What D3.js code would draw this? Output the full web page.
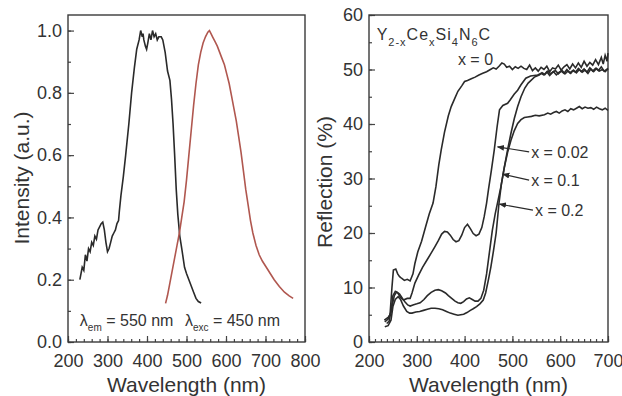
<!DOCTYPE html>
<html>
<head>
<meta charset="utf-8">
<script src="https://cdn.jsdelivr.net/npm/d3@7"></script>
<style>
  body { margin: 0; background: #fff; }
  svg { display: block; font-family: Arial, "Liberation Sans", sans-serif; }
  .tick text { fill: #333; }
</style>
</head>
<body>
<div id="chart"></div>
<script>
// left panel: excitation (monitored at 550 nm) and emission (excited at 450 nm)
const excWl = [230, 236, 240, 244, 248, 252, 256, 260, 264, 268, 272, 276, 280, 284, 288, 292, 296, 300, 304, 308, 312, 316, 320, 324, 328, 330, 334, 340, 346, 354, 361, 368, 374, 380, 384, 388, 390, 392, 396, 399, 402, 406, 410, 414, 418, 422, 426, 430, 436, 440, 446, 452, 458, 462, 466, 470, 474, 478, 483, 488, 495, 500, 506, 512, 518, 524, 530, 537];
const excVal = [0.20, 0.24, 0.23, 0.28, 0.26, 0.30, 0.29, 0.32, 0.31, 0.34, 0.33, 0.36, 0.37, 0.38, 0.385, 0.36, 0.32, 0.29, 0.30, 0.32, 0.34, 0.35, 0.36, 0.38, 0.39, 0.42, 0.47, 0.53, 0.60, 0.70, 0.80, 0.88, 0.94, 0.97, 1.0, 0.98, 0.99, 0.97, 0.95, 0.94, 0.96, 0.99, 0.97, 1.0, 0.98, 0.99, 0.97, 0.98, 0.98, 0.97, 0.93, 0.87, 0.84, 0.78, 0.70, 0.60, 0.49, 0.41, 0.34, 0.30, 0.24, 0.22, 0.20, 0.18, 0.16, 0.14, 0.13, 0.125];
const emWl = [447, 452, 458, 464, 470, 476, 482, 488, 494, 500, 506, 512, 518, 524, 530, 536, 542, 548, 554, 558, 562, 566, 572, 578, 584, 590, 596, 602, 608, 614, 620, 626, 632, 638, 644, 650, 656, 662, 668, 676, 684, 692, 702, 712, 722, 735, 748, 760, 770];
const emVal = [0.124, 0.15, 0.19, 0.23, 0.27, 0.31, 0.35, 0.40, 0.45, 0.52, 0.60, 0.68, 0.76, 0.83, 0.89, 0.93, 0.96, 0.98, 0.995, 1.0, 0.99, 0.98, 0.965, 0.95, 0.93, 0.91, 0.89, 0.86, 0.83, 0.79, 0.75, 0.71, 0.66, 0.61, 0.55, 0.49, 0.44, 0.39, 0.35, 0.31, 0.28, 0.26, 0.24, 0.22, 0.20, 0.178, 0.16, 0.148, 0.14];

// right panel: diffuse reflection of Y2-xCexSi4N6C
const r0Wl = [232, 240, 244, 248, 251, 256, 260, 264, 268, 274, 280, 286, 292, 296, 302, 310, 318, 326, 334, 340, 346, 351, 358, 366, 372, 379, 386, 394, 400, 406, 414, 422, 430, 438, 446, 454, 460, 466, 472, 478, 483, 488, 494, 500, 506, 512, 518, 524, 530, 536, 542, 548, 554, 560, 566, 572, 578, 584, 590, 596, 602, 608, 614, 620, 626, 632, 638, 644, 650, 656, 662, 668, 674, 680, 686, 690, 694, 698, 700];
const r0Val = [4.0, 4.5, 5, 10, 13.2, 13.4, 12.5, 12.0, 11.7, 11.3, 11.5, 11.2, 12.5, 14.4, 16.5, 18.5, 21, 23.5, 25.5, 28.5, 32.5, 35.2, 38.5, 41.5, 43.2, 44.6, 46, 47, 47.8, 48.0, 48.3, 48.6, 49, 49.3, 49.6, 50.0, 50.3, 50.1, 50.6, 51.2, 51.0, 50.4, 50.6, 50.0, 50.5, 50.2, 50.6, 50.2, 50.0, 50.8, 49.8, 50.3, 49.7, 50.4, 50.0, 50.6, 49.6, 50.3, 50.1, 50.8, 49.9, 50.5, 50.9, 50.1, 51.0, 50.3, 51.2, 50.4, 51.5, 50.6, 51.3, 50.8, 51.8, 50.9, 52.2, 51.0, 52.6, 51.5, 53.0];
const r002Wl = [233, 240, 246, 250, 255, 260, 265, 272, 280, 286, 290, 296, 304, 312, 321, 330, 338, 345, 352, 358, 364, 370, 376, 382, 388, 394, 400, 406, 412, 418, 424, 430, 436, 441, 446, 450, 456, 462, 468, 473, 480, 490, 496, 504, 511, 518, 528, 538, 553, 560, 566, 572, 578, 584, 590, 596, 602, 608, 614, 620, 626, 632, 638, 644, 650, 656, 662, 668, 674, 680, 686, 692, 700];
const r002Val = [3.7, 4.2, 5.5, 8.5, 9.3, 9.0, 8.3, 7.7, 8.0, 8.0, 9.0, 10.8, 12.3, 13.7, 15.0, 16.3, 17.5, 18.6, 19.8, 20.3, 20.2, 19.6, 18.8, 18.4, 18.6, 19.6, 21.0, 21.6, 20.8, 19.9, 19.5, 19.8, 21, 23, 25.5, 28, 31.5, 35.2, 39.5, 42.6, 43.4, 43.8, 44.5, 45.5, 46.2, 47.2, 48.4, 48.8, 49.0, 49.3, 49.0, 49.6, 48.9, 49.5, 49.8, 49.2, 49.7, 49.3, 50.0, 49.4, 49.8, 49.5, 50.2, 49.6, 50.1, 49.5, 50.3, 49.7, 50.2, 49.8, 50.5, 49.7, 50.2];
const r01Wl = [237, 242, 248, 253, 258, 264, 270, 275, 281, 286, 292, 300, 307, 315, 322, 330, 338, 345, 352, 360, 366, 373, 380, 386, 392, 398, 404, 410, 416, 422, 428, 434, 440, 446, 452, 458, 464, 470, 476, 484, 490, 497, 504, 511, 518, 526, 533, 539, 546, 556, 562, 568, 574, 580, 586, 592, 598, 604, 610, 616, 622, 628, 634, 640, 646, 652, 658, 664, 670, 676, 682, 688, 694, 700];
const r01Val = [3.4, 3.8, 6.5, 8.5, 9.2, 8.8, 8.0, 7.4, 6.8, 6.6, 6.8, 7.0, 7.2, 7.8, 8.5, 9.1, 9.5, 9.6, 9.4, 9.0, 8.5, 8.0, 7.5, 7.2, 7.1, 7.4, 7.9, 8.1, 7.8, 7.5, 7.5, 8.0, 9.5, 12.5, 16.5, 20.5, 23.5, 26, 28.5, 32.5, 35.3, 38.3, 41, 43.2, 45.0, 46.6, 47.5, 48.0, 48.6, 49.0, 49.4, 49.1, 49.7, 49.2, 49.6, 49.0, 49.5, 49.8, 49.2, 49.7, 49.3, 49.9, 49.4, 50.0, 49.5, 49.9, 49.3, 50.1, 49.6, 50.2, 49.7, 50.0, 49.6, 50.1];
const r02Wl = [233, 240, 246, 250, 255, 261, 266, 272, 279, 285, 290, 298, 306, 314, 322, 330, 338, 346, 354, 362, 370, 378, 386, 392, 398, 405, 412, 418, 425, 432, 439, 444, 450, 455, 460, 466, 472, 477, 483, 490, 497, 504, 511, 518, 525, 532, 540, 548, 556, 567, 574, 580, 586, 592, 598, 604, 610, 616, 622, 628, 634, 640, 646, 652, 658, 664, 670, 676, 682, 688, 694, 700];
const r02Val = [2.8, 3.0, 4.0, 6.5, 7.8, 8.3, 7.8, 6.6, 5.6, 5.3, 5.3, 5.5, 5.6, 5.8, 6.0, 6.2, 6.2, 6.1, 5.9, 5.6, 5.3, 5.1, 4.9, 5.0, 5.1, 5.4, 5.8, 6.1, 6.5, 7.0, 7.7, 9.0, 11.5, 13.8, 16.5, 20.0, 25.5, 29.0, 32.0, 34.8, 37.0, 38.8, 40.1, 40.8, 41.2, 41.3, 41.4, 41.6, 41.5, 41.7, 42.0, 41.8, 42.1, 42.3, 42.0, 42.4, 42.6, 42.3, 42.8, 42.6, 42.9, 43.2, 42.8, 43.1, 42.9, 43.0, 42.7, 43.1, 42.8, 42.6, 42.9, 42.5];

const leftXTicks = [200, 300, 400, 500, 600, 700, 800];
const leftYTicks = [0.0, 0.2, 0.4, 0.6, 0.8, 1.0];
const rightXTicks = [200, 300, 400, 500, 600, 700];
const rightYTicks = [0, 10, 20, 30, 40, 50, 60];

const W = 622, H = 396;
const textColor = '#333';
const lineColor = '#2a2a2a';

const svg = d3.select('#chart').append('svg')
  .attr('width', W)
  .attr('height', H);

const zip = (xs, ys) => xs.map((x, i) => ({ x: x, y: ys[i] }));

function drawFrame(x, y, opts) {
  const [x0, x1] = x.range();
  const [y0, y1] = y.range();
  const g = svg.append('g');

  // bottom axis, ticks pointing inward
  g.append('g')
    .attr('transform', 'translate(0,' + y0 + ')')
    .call(d3.axisBottom(x).tickValues(opts.minorX).tickSize(-3).tickFormat(''))
    .call(a => a.select('.domain').remove());
  g.append('g')
    .attr('transform', 'translate(0,' + y0 + ')')
    .call(d3.axisBottom(x).tickValues(opts.xTicks).tickSize(-6).tickPadding(12).tickFormat(opts.xFormat))
    .call(a => a.select('.domain').remove())
    .call(a => a.selectAll('text').attr('font-size', 18));

  // left axis
  g.append('g')
    .attr('transform', 'translate(' + x0 + ',0)')
    .call(d3.axisLeft(y).tickValues(opts.minorY).tickSize(-3).tickFormat(''))
    .call(a => a.select('.domain').remove());
  g.append('g')
    .attr('transform', 'translate(' + x0 + ',0)')
    .call(d3.axisLeft(y).tickValues(opts.yTicks).tickSize(-6).tickPadding(opts.yPad).tickFormat(opts.yFormat))
    .call(a => a.select('.domain').remove())
    .call(a => a.selectAll('text').attr('font-size', 18));

  g.selectAll('.tick line').attr('stroke', '#444').attr('stroke-width', 1.2);

  g.append('rect')
    .attr('x', x0).attr('y', y1)
    .attr('width', x1 - x0).attr('height', y0 - y1)
    .attr('fill', 'none')
    .attr('stroke', '#3a3a3a')
    .attr('stroke-width', 1.4);

  // axis titles
  g.append('text')
    .attr('x', (x0 + x1) / 2)
    .attr('y', 392)
    .attr('text-anchor', 'middle')
    .attr('font-size', 21)
    .attr('fill', textColor)
    .text('Wavelength (nm)');
  g.append('text')
    .attr('transform', 'translate(' + opts.titleX + ',' + opts.titleY + ') rotate(-90)')
    .attr('text-anchor', 'middle')
    .attr('font-size', 21)
    .attr('fill', textColor)
    .text(opts.yTitle);
}

// ---------- left panel ----------
const xL = d3.scaleLinear().domain([200, 800]).range([68, 305]);
const yL = d3.scaleLinear().domain([0, 1.05]).range([342, 15]);

drawFrame(xL, yL, {
  xTicks: leftXTicks,
  yTicks: leftYTicks,
  minorX: d3.range(200, 801, 20),
  minorY: d3.range(0, 1.01, 0.1),
  xFormat: d3.format('d'),
  yFormat: d3.format('.1f'),
  yPad: 6,
  yTitle: 'Intensity (a.u.)',
  titleX: 29,
  titleY: 178
});

const lineL = d3.line().x(d => xL(d.x)).y(d => yL(d.y));

svg.append('path')
  .datum(zip(excWl, excVal))
  .attr('fill', 'none')
  .attr('stroke', lineColor)
  .attr('stroke-width', 1.6)
  .attr('d', lineL);

svg.append('path')
  .datum(zip(emWl, emVal))
  .attr('fill', 'none')
  .attr('stroke', '#b0574f')
  .attr('stroke-width', 1.6)
  .attr('d', lineL);

function lambdaLabel(x, y, sub, rest) {
  const t = svg.append('text')
    .attr('x', x).attr('y', y)
    .attr('font-size', 16)
    .attr('fill', textColor);
  t.append('tspan').text('λ');
  t.append('tspan').attr('dy', 5).attr('font-size', 10).text(sub);
  t.append('tspan').attr('dy', -5).text(rest);
}
lambdaLabel(xL(230), yL(0.051), 'em', ' = 550 nm');
lambdaLabel(xL(496), yL(0.051), 'exc', ' = 450 nm');

// ---------- right panel ----------
const xR = d3.scaleLinear().domain([200, 700]).range([369, 608]);
const yR = d3.scaleLinear().domain([0, 60]).range([342, 15]);

drawFrame(xR, yR, {
  xTicks: rightXTicks,
  yTicks: rightYTicks,
  minorX: d3.range(200, 701, 12.5),
  minorY: d3.range(0, 61, 5),
  xFormat: d3.format('d'),
  yFormat: d3.format('d'),
  yPad: 6,
  yTitle: 'Reflection (%)',
  titleX: 332,
  titleY: 182
});

const lineR = d3.line().x(d => xR(d.x)).y(d => yR(d.y));
[[r0Wl, r0Val], [r002Wl, r002Val], [r01Wl, r01Val], [r02Wl, r02Val]].forEach(s => {
  svg.append('path')
    .datum(zip(s[0], s[1]))
    .attr('fill', 'none')
    .attr('stroke', lineColor)
    .attr('stroke-width', 1.6)
    .attr('d', lineR);
});

// formula
const f = svg.append('text')
  .attr('x', xR(216)).attr('y', yR(55.4))
  .attr('font-size', 16)
  .attr('letter-spacing', 1)
  .attr('fill', textColor);
[['Y', 0], ['2-x', 1], ['Ce', 0], ['x', 1], ['Si', 0], ['4', 1], ['N', 0], ['6', 1], ['C', 0]].forEach((p, i, arr) => {
  const prevSub = i > 0 && arr[i - 1][1];
  const dy = p[1] && !prevSub ? 6 : (!p[1] && prevSub ? -6 : 0);
  f.append('tspan')
    .attr('dy', dy)
    .attr('font-size', p[1] ? 11 : 16)
    .text(p[0]);
});

svg.append('text')
  .attr('x', xR(386)).attr('y', yR(50.9))
  .attr('font-size', 16)
  .attr('fill', textColor)
  .text('x = 0');

// arrows from labels to curves
const arrows = [
  { label: 'x = 0.02', tail: [535, 34.9], tip: [469, 35.8] },
  { label: 'x = 0.1', tail: [535, 29.7], tip: [480, 30.8] },
  { label: 'x = 0.2', tail: [543, 24.2], tip: [473, 25.3] }
];

svg.append('defs').append('marker')
  .attr('id', 'head')
  .attr('viewBox', '0 0 10 10')
  .attr('refX', 9).attr('refY', 5)
  .attr('markerWidth', 6).attr('markerHeight', 6)
  .attr('orient', 'auto')
  .append('path')
  .attr('d', 'M0,1L10,5L0,9Z')
  .attr('fill', lineColor);

arrows.forEach(a => {
  svg.append('line')
    .attr('x1', xR(a.tail[0])).attr('y1', yR(a.tail[1]))
    .attr('x2', xR(a.tip[0])).attr('y2', yR(a.tip[1]))
    .attr('stroke', lineColor)
    .attr('stroke-width', 1.2)
    .attr('marker-end', 'url(#head)');
  svg.append('text')
    .attr('x', xR(a.tail[0]) + 2)
    .attr('y', yR(a.tail[1]) + 6)
    .attr('font-size', 16)
    .attr('fill', textColor)
    .text(a.label);
});
</script>
</body>
</html>
